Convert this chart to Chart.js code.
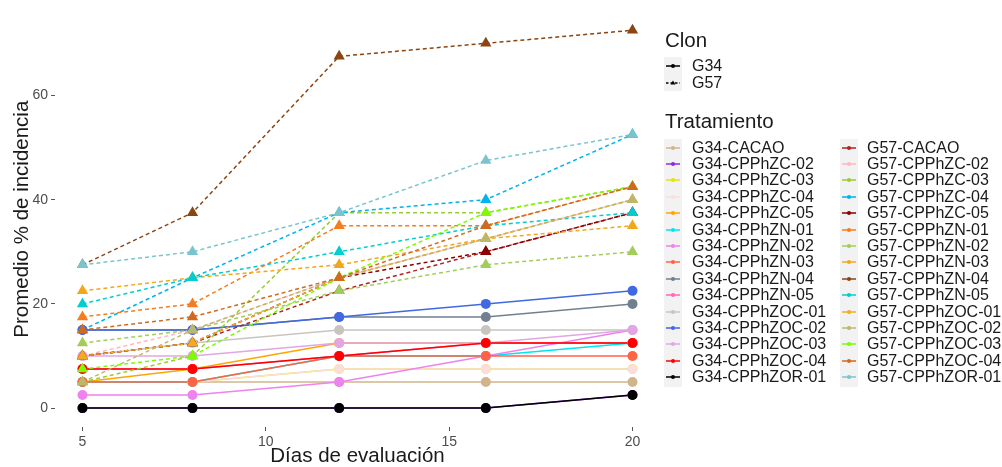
<!DOCTYPE html>
<html>
<head>
<meta charset="utf-8">
<script src="https://cdn.jsdelivr.net/npm/chart.js@4/dist/chart.umd.min.js"></script>
<style>
  body { margin: 0; background: #fff; font-family: "Liberation Sans", Arial, sans-serif; }
  #wrap { position: relative; width: 1002px; height: 467px; }
  #legend { position: absolute; left: 664px; top: 0; color: #1a1a1a; }
  .ltitle { position: absolute; font-size: 20.5px; white-space: nowrap; }
  .item { position: absolute; font-size: 16px; white-space: nowrap; line-height: 16px; }
  .col { position: absolute; background: #f2f2f2; width: 18px; }
  .key { position: absolute; width: 18px; height: 16px; }
</style>
</head>
<body>
<div id="wrap">
  <canvas id="chart" width="1002" height="467"></canvas>
  <div id="legend"></div>
</div>
<script>
// evaluation days
const days = [5, 8, 12, 16, 20];
const yTicks = [0, 20, 40, 60];
const xTicks = [5, 10, 15, 20];

const treatments = ['CACAO', 'CPPhZC-02', 'CPPhZC-03', 'CPPhZC-04', 'CPPhZC-05',
    'CPPhZN-01', 'CPPhZN-02', 'CPPhZN-03', 'CPPhZN-04', 'CPPhZN-05',
    'CPPhZOC-01', 'CPPhZOC-02', 'CPPhZOC-03', 'CPPhZOC-04', 'CPPhZOR-01'];

// % incidence, clone G34 (one row per treatment, same order as above)
const g34Values = [
    [5, 5, 5, 5, 5],
    [0, 0, 0, 0, 2.5],
    [5, 5, 7.5, 7.5, 7.5],
    [5, 5, 7.5, 7.5, 7.5],
    [5, 7.5, 12.5, 12.5, 12.5],
    [5, 5, 10, 10, 12.5],
    [2.5, 2.5, 5, 10, 15],
    [5, 5, 10, 10, 10],
    [15, 15, 17.5, 17.5, 20],
    [7.5, 7.5, 10, 12.5, 12.5],
    [10, 12.5, 15, 15, 15],
    [15, 15, 17.5, 20, 22.5],
    [10, 10, 12.5, 12.5, 15],
    [7.5, 7.5, 10, 12.5, 12.5],
    [0, 0, 0, 0, 2.5]
];

// % incidence, clone G57
const g57Values = [
    [10, 12.5, 22.5, 30, 37.5],
    [10, 15, 25, 32.5, 40],
    [5, 10, 37.5, 37.5, 42.5],
    [15, 25, 37.5, 40, 52.5],
    [10, 12.5, 25, 30, 37.5],
    [17.5, 20, 35, 35, 42.5],
    [12.5, 15, 22.5, 27.5, 30],
    [22.5, 25, 27.5, 32.5, 35],
    [27.5, 37.5, 67.5, 70, 72.5],
    [20, 25, 30, 35, 37.5],
    [10, 12.5, 25, 32.5, 40],
    [5, 15, 25, 32.5, 40],
    [7.5, 10, 25, 37.5, 42.5],
    [15, 17.5, 25, 35, 42.5],
    [27.5, 30, 37.5, 47.5, 52.5]
];

const g34Colors = ['#d2b48c', '#8a2be2', '#e5e500', '#fbdedb', '#ffa500',
    '#00e5ee', '#ee82ee', '#ff6347', '#708090', '#ff69b4',
    '#c8c4c0', '#4169e1', '#e2a6e2', '#ff0000', '#000000'];
const g57Colors = ['#b22222', '#ffb6c1', '#9acd32', '#00b2ee', '#8b0000',
    '#f57c1f', '#a2cd5a', '#f2a71b', '#8b4513', '#00ced1',
    '#f0ad1e', '#bdb76b', '#7cfc00', '#d2691e', '#7ac5cd'];

// build datasets: lines under all points, later groups on top (like ggplot)
const datasets = [];
const groups = [];
treatments.forEach((t, i) => groups.push({ clon: 'G34', vals: g34Values[i], color: g34Colors[i] }));
treatments.forEach((t, i) => groups.push({ clon: 'G57', vals: g57Values[i], color: g57Colors[i] }));

groups.forEach((g, k) => {
    const pts = days.map((d, j) => ({ x: d, y: g.vals[j] }));
    const dashed = g.clon === 'G57';
    datasets.push({
        data: pts,
        borderColor: g.color,
        borderWidth: 1.5,
        borderDash: dashed ? [4, 3] : [],
        pointRadius: 0,
        fill: false,
        tension: 0,
        order: 200 - k
    });
    datasets.push({
        data: pts,
        showLine: false,
        pointStyle: dashed ? 'triangle' : 'circle',
        pointRadius: dashed ? 6.5 : 5,
        pointBackgroundColor: g.color,
        pointBorderColor: g.color,
        pointBorderWidth: 0,
        order: 100 - k
    });
});

new Chart(document.getElementById('chart').getContext('2d'), {
    type: 'line',
    data: { datasets: datasets },
    options: {
        responsive: false,
        animation: false,
        layout: { padding: { left: 0, right: 342, top: 1, bottom: 0 } },
        plugins: { legend: { display: false }, tooltip: { enabled: false } },
        scales: {
            x: {
                type: 'linear',
                min: 4.25,
                max: 20.75,
                afterBuildTicks: (s) => { s.ticks = xTicks.map(v => ({ value: v })); },
                afterFit: (s) => { s.height = 40; },
                grid: { drawOnChartArea: false, drawTicks: true, tickLength: 4, color: '#555' },
                border: { display: false },
                ticks: { color: '#4d4d4d', font: { size: 14, family: 'Liberation Sans' }, padding: 3, maxRotation: 0 },
                title: { display: true, text: 'Días de evaluación', color: '#1a1a1a',
                    font: { size: 20.5, family: 'Liberation Sans', lineHeight: 1 }, padding: { top: 0, bottom: 0 } }
            },
            y: {
                min: -3.625,
                max: 76.125,
                afterBuildTicks: (s) => { s.ticks = yTicks.map(v => ({ value: v })); },
                afterFit: (s) => { s.width = 55; },
                grid: { drawOnChartArea: false, drawTicks: true, tickLength: 4, color: '#555' },
                border: { display: false },
                ticks: { color: '#4d4d4d', font: { size: 14, family: 'Liberation Sans' }, padding: 3 },
                title: { display: true, text: 'Promedio % de incidencia', color: '#1a1a1a',
                    font: { size: 20.5, family: 'Liberation Sans', lineHeight: 1 }, padding: { top: 12, bottom: 0 } }
            }
        }
    }
});

// legend (html)
const legend = document.getElementById('legend');
function keySvg(color, dashed) {
    const line = dashed
        ? `<line x1="2" y1="8" x2="16" y2="8" stroke="${color}" stroke-width="1.5" stroke-dasharray="2.5,2"/>`
        : `<line x1="2" y1="8" x2="16" y2="8" stroke="${color}" stroke-width="1.5"/>`;
    const mark = dashed
        ? `<polygon points="9,5.5 11.5,9.5 6.5,9.5" fill="${color}"/>`
        : `<circle cx="9" cy="8" r="2" fill="${color}"/>`;
    return `<svg width="18" height="16">${line}${mark}</svg>`;
}
let html = '';
html += `<div class="ltitle" style="left:1px;top:28px">Clon</div>`;
html += `<div class="col" style="left:0;top:57px;height:34px"></div>`;
['G34', 'G57'].forEach((c, i) => {
    const top = 58 + i * 16.5;
    html += `<div class="key" style="left:0;top:${top}px">${keySvg('#000', i === 1)}</div>`;
    html += `<div class="item" style="left:28px;top:${top}px">${c}</div>`;
});
html += `<div class="ltitle" style="left:1px;top:109px">Tratamiento</div>`;
const colX = [0, 176];
const textX = [28, 203];
['G34', 'G57'].forEach((c, ci) => {
    const cols = ci === 0 ? g34Colors : g57Colors;
    html += `<div class="col" style="left:${colX[ci]}px;top:139px;height:248px"></div>`;
    treatments.forEach((t, i) => {
        const top = 139.5 + i * 16.4;
        html += `<div class="key" style="left:${colX[ci]}px;top:${top}px">${keySvg(cols[i], false)}</div>`;
        html += `<div class="item" style="left:${textX[ci]}px;top:${top}px">${c}-${t}</div>`;
    });
});
legend.innerHTML = html;
</script>
</body>
</html>
